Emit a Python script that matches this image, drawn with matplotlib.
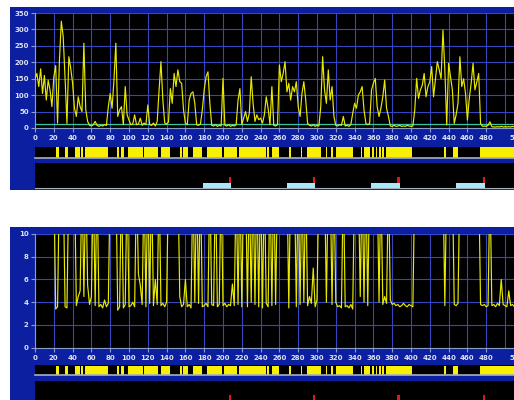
import numpy as np
import matplotlib
matplotlib.use('Agg')
import matplotlib.pyplot as plt
from matplotlib.patches import Rectangle

# data, sampled every 2 units along x
x_step = 2
rate = [150, 166, 126, 180, 105, 160, 85, 145, 115, 65,
        155, 190, 15, 207, 325, 278, 150, 14, 217, 182,
        136, 60, 35, 95, 65, 50, 258, 55, 20, 8,
        6, 10, 20, 8, 5, 8, 6, 10, 8, 65,
        105, 60, 146, 258, 35, 55, 65, 10, 126, 40,
        24, 10, 12, 40, 10, 12, 30, 8, 15, 10,
        70, 10, 8, 15, 6, 20, 115, 202, 85, 15,
        12, 18, 120, 75, 166, 126, 177, 141, 136, 55,
        14, 10, 85, 105, 110, 75, 10, 8, 12, 55,
        116, 156, 171, 75, 8, 6, 10, 5, 8, 6,
        151, 8, 6, 10, 5, 8, 6, 10, 85, 120,
        10, 30, 50, 20, 45, 156, 75, 20, 40, 25,
        30, 15, 40, 95, 60, 10, 126, 8, 6, 10,
        192, 141, 166, 202, 110, 136, 85, 126, 110, 141,
        65, 35, 105, 141, 85, 14, 8, 6, 10, 5,
        8, 6, 65, 217, 116, 75, 177, 85, 126, 35,
        8, 6, 10, 8, 35, 6, 8, 5, 10, 45,
        75, 60, 100, 110, 126, 55, 14, 10, 14, 116,
        136, 151, 65, 35, 60, 95, 146, 60, 35, 6,
        5, 8, 5, 6, 8, 5, 6, 5, 8, 6,
        5, 6, 55, 151, 90, 116, 130, 166, 95, 126,
        140, 187, 95, 150, 202, 177, 150, 298, 177, 9,
        197, 156, 116, 14, 40, 75, 217, 126, 150, 105,
        24, 90, 136, 197, 116, 140, 166, 14, 5, 6,
        5, 8, 19, 4, 3, 3, 4, 3, 5, 3,
        4, 3, 4, 3, 5, 3]

HI = 15  # above the top of the lower chart
ratio = [HI, HI, HI, HI, HI, HI, HI, HI, HI, HI,
         HI, 3.4, 3.6, HI, HI, HI, 3.6, 3.5, HI, HI,
         HI, HI, 3.7, 4.5, 5.0, HI, 4.5, HI, 5.5, 3.8,
         4.5, HI, 3.7, HI, 3.6, 3.8, 3.5, 4.2, 3.6, 3.9,
         HI, HI, HI, HI, 3.3, 3.6, HI, 3.5, 3.8, HI,
         3.6, 3.7, 4.0, 3.6, HI, 6.5, 5.5, 3.8, HI, 3.6,
         HI, 3.9, HI, 3.7, 6.0, 3.8, HI, 3.7, 3.9, 3.6,
         4.0, HI, HI, HI, HI, HI, HI, 4.5, 3.6, 3.8,
         6.0, 3.6, 3.8, 3.5, HI, 4.0, HI, 3.9, HI, 3.6,
         3.7, 3.9, 3.6, HI, 3.8, 3.7, HI, 3.6, 3.8, HI,
         3.7, 3.9, 3.6, 3.8, 3.7, 5.6, 3.7, HI, 3.8, HI,
         3.6, HI, HI, 3.6, HI, 4.0, HI, 3.8, HI, 3.6,
         HI, 3.5, HI, 3.9, 3.6, HI, 3.7, HI, 3.8, HI,
         HI, HI, HI, HI, HI, 3.5, HI, HI, HI, 3.6,
         HI, 3.8, HI, 4.0, HI, 3.7, 4.5, 3.9, 7.0, 3.6,
         4.2, HI, HI, HI, HI, 4.0, HI, HI, 3.8, HI,
         4.0, 3.6, 3.7, 3.5, HI, 3.6, 3.7, 3.5, 3.8, 3.4,
         HI, HI, HI, 4.5, HI, 4.0, HI, 3.7, HI, HI,
         HI, HI, HI, 4.0, HI, 3.8, 4.5, 3.9, HI, 4.2,
         3.8, 3.9, 3.7, 3.8, 3.6, 3.7, 3.9, 3.7, 3.6, 3.8,
         3.7, 3.6, HI, HI, HI, HI, HI, HI, HI, HI,
         HI, HI, HI, HI, HI, HI, HI, HI, 3.7, HI,
         HI, HI, HI, 3.8, 3.7, 3.9, HI, HI, HI, HI,
         HI, HI, HI, HI, HI, HI, HI, 3.8, 3.7, 3.8,
         3.6, 3.7, HI, 3.7, 3.8, 3.6, 3.9, 3.7, 6.0, 3.8,
         3.7, 3.6, 5.0, 3.7, 3.8, 3.6]

threshold = 12

# yellow state bar segments (start, end)
state_on = [(22.3, 25.2), (32.3, 35.5), (42.9, 47.9), (49.3, 51.4), (53.5, 77.3),
            (86.9, 89.7), (91.1, 95.0), (99.3, 115.2), (116.3, 131.2), (134.4, 143.6),
            (154.3, 156.7), (157.8, 163.1), (167.7, 177.3), (183.3, 199.3), (201.0, 215.2),
            (217.4, 245.4), (246.4, 249.0), (252.5, 259.6), (270.2, 272.0), (282.6, 284.4),
            (289.7, 303.9), (309.2, 311.0), (315.2, 317.4), (319.9, 338.3), (346.5, 348.2),
            (350.0, 356.4), (358.9, 360.6), (362.4, 364.2), (366.0, 367.7), (369.5, 371.3),
            (373.0, 401.4), (435.0, 436.8), (444.6, 449.9), (473.4, 530.0)]

# cyan windows and red markers at their ends
windows = [(178.5, 208.5), (268.0, 298.0), (357.5, 388.0), (448.0, 479.0)]

x_ticks = list(range(0, 500, 20)) + [512]
x_labels = [str(v) for v in range(0, 500, 20)] + ['512']

W, H = 514, 400
PXU = 0.94      # pixels per x unit
X0 = 35
XMAX = 525

panel_blue = '#0b1fa0'
grid_blue = '#3646c0'
label_col = '#dce2f2'
axis_col = '#8c9cc8'
yellow = '#e8e800'


def box(x0, y0, x1, y1):
    return [x0 / W, 1 - y1 / H, (x1 - x0) / W, (y1 - y0) / H]


def xright():
    return X0 + XMAX * PXU


fig = plt.figure(figsize=(W / 100, H / 100), dpi=100, facecolor='white')

for (py0, py1) in [(7, 190), (227, 412)]:
    fig.add_artist(Rectangle((10 / W, 1 - py1 / H), (530 - 10) / W, (py1 - py0) / H,
                             transform=fig.transFigure, facecolor=panel_blue,
                             edgecolor='none', zorder=0))


def chart(y0, y1, ylim, yticks, series):
    ax = fig.add_axes(box(X0, y0, xright(), y1))
    ax.set_facecolor('black')
    xs = np.arange(len(series)) * x_step
    ax.plot(xs, series, color=yellow, lw=0.85, zorder=3)
    ax.set_xlim(0, XMAX)
    ax.set_ylim(*ylim)
    for v in range(0, 520, 20):
        ax.axvline(v, color=grid_blue, lw=0.8, zorder=1)
    for v in yticks:
        ax.axhline(v, color=grid_blue, lw=0.8, zorder=1)
    ax.set_xticks(x_ticks)
    ax.set_xticklabels(x_labels)
    ax.set_yticks(yticks)
    ax.set_yticklabels([str(v) for v in yticks])
    for s in ['top', 'right']:
        ax.spines[s].set_visible(False)
    ax.spines['left'].set_color(axis_col)
    ax.spines['bottom'].set_color(axis_col)
    ax.spines['bottom'].set_position(('data', 0))
    ax.tick_params(colors=axis_col, labelcolor=label_col, labelsize=5, length=3,
                   width=0.8, pad=1.5)
    ax.tick_params(axis='x', pad=2.2)
    for t in ax.get_xticklabels() + ax.get_yticklabels():
        t.set_fontweight('bold')
    return ax


def state_strip(y0, y1):
    ax = fig.add_axes(box(X0, y0, xright(), y1))
    ax.set_facecolor('black')
    ax.broken_barh([(a, b - a) for a, b in state_on], (0, 1), facecolors='#f8f000')
    ax.set_xlim(0, XMAX)
    ax.set_ylim(0, 1.08)
    ax.set_xticks([])
    ax.set_yticks([])
    for s in ['top', 'right', 'left']:
        ax.spines[s].set_visible(False)
    ax.spines['bottom'].set_color('#a8b0c0')
    ax.spines['bottom'].set_linewidth(1.2)
    return ax


def event_panel(y0, y1):
    ax = fig.add_axes(box(X0, y0, xright(), y1))
    ax.set_facecolor('black')
    ax.set_xlim(0, XMAX)
    ax.set_ylim(y1 - y0, 0)
    for a, b in windows:
        ax.add_patch(Rectangle((a, 20), b - a, 5, facecolor='#a8e8f8', edgecolor='none'))
        ax.add_patch(Rectangle((b - 2.6, 14), 2.6, 6, facecolor='#e01818', edgecolor='none'))
    ax.set_xticks([])
    ax.set_yticks([])
    for s in ['top', 'right', 'left']:
        ax.spines[s].set_visible(False)
    ax.spines['bottom'].set_color('#a8b0c0')
    return ax


top = chart(13, 129.3, (-4, 350), list(range(0, 351, 50)), rate)
top.axhline(threshold, color='#38c8a0', lw=0.9, zorder=2)
state_strip(146.5, 157.5)
event_panel(163, 188.5)

chart(234, 349.4, (-0.15, 10), [0, 2, 4, 6, 8, 10], ratio)
state_strip(365, 374.5)
event_panel(381, 406.5)

fig.savefig('out.png', dpi=100, facecolor='white')
